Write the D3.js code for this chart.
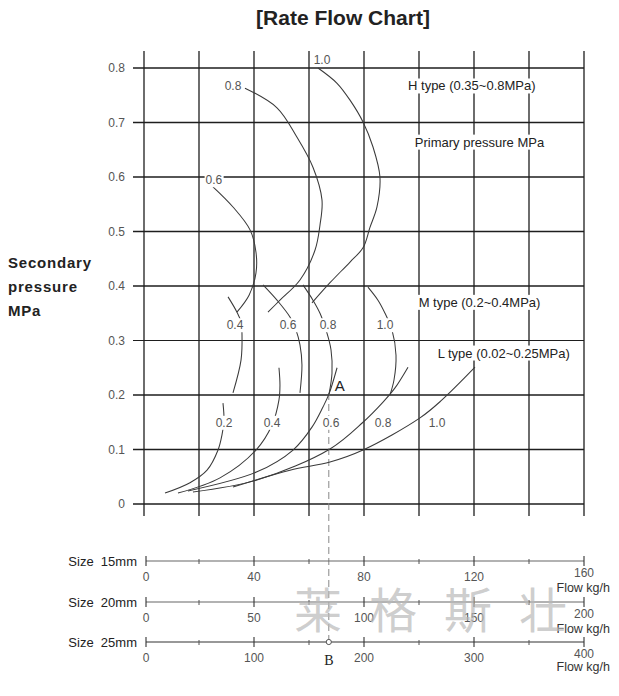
<!DOCTYPE html>
<html>
<head>
<meta charset="utf-8">
<script src="https://cdn.jsdelivr.net/npm/d3@7"></script>
<style>
  html, body { margin: 0; padding: 0; background: #fff; }
  svg { display: block; }
  text { font-family: "Liberation Sans", Arial, sans-serif; }
</style>
</head>
<body>
<svg id="chart" width="619" height="696"></svg>
<script>
// ---------- DATA ----------
// x unit = flow in kg/h for Size 25mm (0..400); y = secondary pressure MPa
const pressureTicks = [0, 0.1, 0.2, 0.3, 0.4, 0.5, 0.6, 0.7, 0.8];
const pressureTickLabels = ["0", "0.1", "0.2", "0.3", "0.4", "0.5", "0.6", "0.7", "0.8"];
const flowGrid = [0, 50, 100, 150, 200, 250, 300, 350, 400];

// H type curves (primary pressure)
const hPrimary = ["0.6", "0.8", "1.0"];
const hFlow = [
  [62.7, 80.9, 96.4, 101.8, 101.8, 95.5, 84.5],
  [91.8, 120.9, 139.1, 153.6, 161.8, 160, 155.5, 141.8, 123.6, 112.7],
  [158.2, 175.5, 187.3, 199.1, 208.2, 214.5, 211.8, 205.5, 199.1, 187.3, 169.1, 152.7]
];
const hPressure = [
  [0.582, 0.545, 0.503, 0.462, 0.424, 0.383, 0.352],
  [0.763, 0.727, 0.673, 0.618, 0.558, 0.512, 0.466, 0.411, 0.374, 0.352],
  [0.800, 0.772, 0.741, 0.701, 0.655, 0.600, 0.545, 0.508, 0.470, 0.444, 0.406, 0.369]
];
const hLabelAt = [[63.6, 0.594], [80.9, 0.767], [161.8, 0.815]];

// M type curves
const mPrimary = ["0.4", "0.6", "0.8", "1.0"];
const mFlow = [
  [76.4, 84.5, 88.2, 89.1, 88.2, 80.9],
  [108.2, 120.9, 132.7, 138.2, 141.8, 143.6, 141.8],
  [144.5, 153.6, 160, 165.5, 170, 170.9, 168.2],
  [203.6, 212.7, 219.1, 225.5, 229.1, 227.3, 223.6]
];
const mPressure = [
  [0.380, 0.352, 0.334, 0.310, 0.264, 0.204],
  [0.402, 0.374, 0.343, 0.319, 0.292, 0.255, 0.204],
  [0.402, 0.374, 0.350, 0.319, 0.283, 0.240, 0.202],
  [0.398, 0.374, 0.350, 0.319, 0.273, 0.228, 0.200]
];
const mLabelAt = [[82.7, 0.328], [130.9, 0.328], [167.3, 0.328], [219.1, 0.328]];

// L type curves
const lPrimary = ["0.2", "0.4", "0.6", "0.8", "1.0"];
const lFlow = [
  [19.1, 41.8, 57.3, 67.3, 70.9, 72.7, 71.8],
  [30.9, 69.1, 101.8, 116.4, 122.7, 123.6, 122.7],
  [40, 102.7, 135.5, 152.7, 162.7, 168.2, 175.5],
  [44.5, 102.7, 169.1, 199.1, 217.3, 228.2, 240],
  [80.9, 132.7, 169.1, 199.1, 250.9, 270.9, 300.9]
];
const lPressure = [
  [0.020, 0.039, 0.062, 0.099, 0.127, 0.154, 0.185],
  [0.020, 0.048, 0.099, 0.145, 0.191, 0.218, 0.250],
  [0.024, 0.059, 0.099, 0.141, 0.178, 0.202, 0.250],
  [0.022, 0.044, 0.101, 0.150, 0.187, 0.213, 0.251],
  [0.031, 0.062, 0.077, 0.099, 0.158, 0.191, 0.251]
];
const lLabelAt = [[72.7, 0.149], [116.4, 0.149], [170, 0.149], [217.3, 0.149], [266.4, 0.149]];

const typeLabels = ["H type (0.35~0.8MPa)", "Primary pressure MPa", "M type (0.2~0.4MPa)", "L type (0.02~0.25MPa)"];
const typeLabelAt = [[298, 0.767], [305, 0.664], [305, 0.370], [327, 0.277]];

// Size scales
const sizeNames = ["Size  15mm", "Size  20mm", "Size  25mm"];
const sizeMax = [160, 200, 400];
const sizeMajor = [[0, 40, 80, 120, 160], [0, 50, 100, 150, 200], [0, 100, 200, 300, 400]];
const sizeMinor = [[20, 60, 100, 140], [25, 75, 125, 175], [50, 150, 250, 350]];
const flowUnit = "Flow kg/h";

// Example point A -> B
const exampleFlow = 168;
const examplePressure = 0.2;

const title = "[Rate Flow Chart]";
const yTitle = ["Secondary", "pressure", "MPa"];
const watermark = ["莱", "格", "斯", "壮"];

// ---------- DRAW ----------
const svg = d3.select("#chart");
const x = d3.scaleLinear().domain([0, 400]).range([144, 584]);
const y = d3.scaleLinear().domain([0, 0.8]).range([504, 68]);

// title
svg.append("text").attr("x", 343).attr("y", 25).attr("text-anchor", "middle")
  .style("font-family", "'Liberation Sans Narrow', 'Arial Narrow', sans-serif")
  .style("font-weight", "bold").style("font-size", "21px").attr("fill", "#222").text(title);

// y title
svg.selectAll("text.ytitle").data(yTitle).enter().append("text")
  .attr("class", "ytitle").attr("x", 8).attr("y", (d, i) => 268 + i * 24)
  .style("font-weight", "bold").style("font-size", "15px").style("letter-spacing", "0.8px")
  .attr("fill", "#222").text(d => d);

// grid
const grid = svg.append("g");
grid.selectAll("line.v").data(flowGrid).enter().append("line")
  .attr("x1", d => x(d)).attr("x2", d => x(d))
  .attr("y1", y(0.8) - 17).attr("y2", y(0) + 12)
  .attr("stroke", "#1e1e1e").attr("stroke-width", 1.3);
grid.selectAll("line.h").data(pressureTicks).enter().append("line")
  .attr("x1", x(0) - 11).attr("x2", x(400))
  .attr("y1", d => y(d)).attr("y2", d => y(d))
  .attr("stroke", "#1e1e1e").attr("stroke-width", d => d === 0.3 ? 1 : 1.4);

// y tick labels
svg.selectAll("text.ytick").data(pressureTicks).enter().append("text")
  .attr("x", x(0) - 19).attr("y", d => y(d) + 4).attr("text-anchor", "end")
  .style("font-size", "12px").attr("fill", "#555").text((d, i) => pressureTickLabels[i]);

// dashed line A -> B
const axisY = [561, 602, 642];
svg.append("line").attr("x1", x(exampleFlow)).attr("x2", x(exampleFlow))
  .attr("y1", y(examplePressure) - 2).attr("y2", axisY[2])
  .attr("stroke", "#888").attr("stroke-width", 1).attr("stroke-dasharray", "7,4");

// curves
const line = d3.line().x(d => x(d[0])).y(d => y(d[1])).curve(d3.curveCatmullRom.alpha(0.5));
function drawCurves(flows, pressures) {
  const pts = flows.map((f, i) => f.map((v, j) => [v, pressures[i][j]]));
  svg.append("g").selectAll("path").data(pts).enter().append("path")
    .attr("d", line).attr("fill", "none").attr("stroke", "#3a3a3a").attr("stroke-width", 1.05);
}
drawCurves(hFlow, hPressure);
drawCurves(mFlow, mPressure);
drawCurves(lFlow, lPressure);

// labels with white background
function boxedLabel(g, px, py, txt, size, color, pad) {
  const t = g.append("text").attr("x", px).attr("y", py).attr("text-anchor", "middle")
    .attr("dominant-baseline", "central").style("font-size", size + "px").attr("fill", color).text(txt);
  const b = t.node().getBBox();
  g.insert("rect", () => t.node()).attr("x", b.x - pad).attr("y", b.y)
    .attr("width", b.width + pad * 2).attr("height", b.height).attr("fill", "#fff");
}
const lab = svg.append("g");
hPrimary.forEach((p, i) => boxedLabel(lab, x(hLabelAt[i][0]), y(hLabelAt[i][1]), p, 12, "#555", 1));
mPrimary.forEach((p, i) => boxedLabel(lab, x(mLabelAt[i][0]), y(mLabelAt[i][1]), p, 12, "#555", 1));
lPrimary.forEach((p, i) => boxedLabel(lab, x(lLabelAt[i][0]), y(lLabelAt[i][1]), p, 12, "#555", 1));
typeLabels.forEach((t, i) => boxedLabel(lab, x(typeLabelAt[i][0]), y(typeLabelAt[i][1]), t, 13, "#222", 3));

// A label
svg.append("text").attr("x", x(exampleFlow) + 6).attr("y", y(examplePressure) - 4)
  .style("font-size", "15px").attr("fill", "#222").text("A");

// size axes
sizeNames.forEach((name, i) => {
  const s = d3.scaleLinear().domain([0, sizeMax[i]]).range([x(0), x(400)]);
  const g = svg.append("g").attr("transform", `translate(0,${axisY[i]})`);
  g.append("line").attr("x1", s(0) + 2).attr("x2", s(sizeMax[i])).attr("y1", 0).attr("y2", 0)
    .attr("stroke", i === 2 ? "#333" : "#666").attr("stroke-width", 1.1);
  g.selectAll("line.maj").data(sizeMajor[i]).enter().append("line")
    .attr("x1", d => s(d) + (d === 0 ? 2 : 0)).attr("x2", d => s(d) + (d === 0 ? 2 : 0))
    .attr("y1", -5).attr("y2", 5).attr("stroke", "#333").attr("stroke-width", 1.1);
  g.selectAll("line.min").data(sizeMinor[i]).enter().append("line")
    .attr("x1", d => s(d)).attr("x2", d => s(d)).attr("y1", -2).attr("y2", 3)
    .attr("stroke", "#555").attr("stroke-width", 1);
  g.selectAll("text.tl").data(sizeMajor[i]).enter().append("text")
    .attr("x", d => s(d) + (d === 0 ? 2 : 0)).attr("y", d => d === sizeMax[i] ? 16 : 20)
    .attr("text-anchor", "middle").style("font-size", "12px").attr("fill", "#555").text(d => d);
  g.append("text").attr("x", 137).attr("y", 5).attr("text-anchor", "end")
    .style("font-size", "13px").style("white-space", "pre").attr("fill", "#222").text(name);
  g.append("text").attr("x", 610).attr("y", i === 2 ? 29 : 31).attr("text-anchor", "end")
    .style("font-size", "12.5px").attr("fill", "#333").text(flowUnit);
});

// B point
svg.append("circle").attr("cx", x(exampleFlow)).attr("cy", axisY[2]).attr("r", 2.6)
  .attr("fill", "#fff").attr("stroke", "#555").attr("stroke-width", 1);
svg.append("text").attr("x", x(exampleFlow)).attr("y", axisY[2] + 23).attr("text-anchor", "middle")
  .style("font-family", "'Liberation Serif', serif").style("font-size", "14px").attr("fill", "#222").text("B");

// watermark (individual characters, evenly spaced)
svg.selectAll("text.wm").data(watermark).enter().append("text")
  .attr("class", "wm").attr("x", (d, i) => 318 + i * 75).attr("y", 628).attr("text-anchor", "middle")
  .style("font-family", "'Noto Sans CJK SC', sans-serif").style("font-size", "48px")
  .style("font-weight", "400").attr("fill", "#b8b8b8").attr("fill-opacity", 0.7).text(d => d);
</script>
</body>
</html>
